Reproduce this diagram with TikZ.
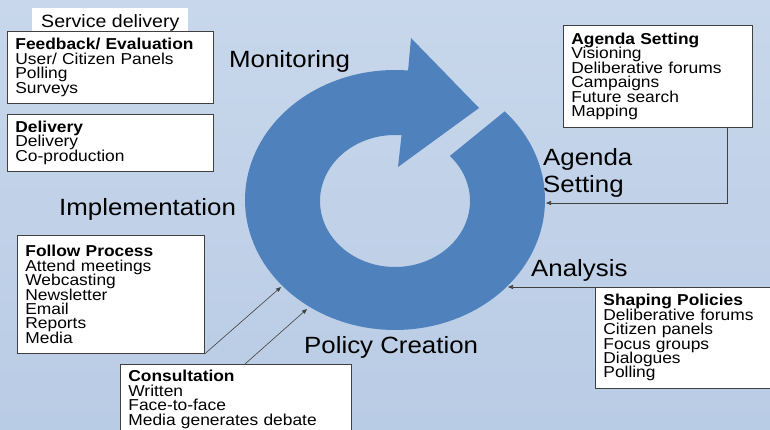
\documentclass[tikz,border=0pt]{standalone}
\usepackage{fontspec}
\setmainfont{Liberation Sans}[FakeStretch=1.1]
\usetikzlibrary{arrows.meta}
\definecolor{ringblue}{HTML}{4F81BD}
\definecolor{bgtop}{HTML}{C8D7EB}
\definecolor{bgbot}{HTML}{B9CCE5}
\definecolor{edgegray}{HTML}{404040}
\newcommand{\boxfont}{\fontsize{15.8}{14.4}\selectfont\lineskiplimit=-30pt\lineskip=0pt}
\newcommand{\svcfont}{\fontsize{17.8}{20}\selectfont}
\newcommand{\stagefont}{\fontsize{23.5}{27}\selectfont}
\begin{document}
\begin{tikzpicture}[x=1pt,y=-1pt,
  infobox/.style={draw=edgegray, line width=0.8pt, fill=white, anchor=north west,
    align=left, inner xsep=8pt, inner ysep=0pt, font=\boxfont},
  stagelabel/.style={anchor=base west, inner sep=0pt, font=\stagefont},
  conn/.style={draw=edgegray, line width=0.6pt, -{Triangle[length=5pt,width=4pt]}}]

\clip (0,0) rectangle (770,430);
\shade[top color=bgtop, bottom color=bgbot] (0,0) rectangle (770,430);

% circular arrow
\fill[ringblue] plot[domain=-43:275, samples=140] ({395+150*cos(\x)},{200+130*sin(\x)})
  -- (411,38) -- (479,108) -- (398,167)
  -- plot[domain=275:-43, samples=140] ({395+75*cos(\x)},{201+66*sin(\x)}) -- cycle;

% stage labels
\node[stagelabel] (mon) at (229,68) {Monitoring};
\node[stagelabel] (ag1) at (543,166) {Agenda};
\node[stagelabel] (ag2) at (543,193) {Setting};
\node[stagelabel] (imp) at (59,215) {Implementation};
\node[stagelabel] (ana) at (531,276) {Analysis};
\node[stagelabel] (pol) at (304,353) {Policy Creation};

% boxes
\node[fill=white, anchor=base west, inner xsep=9pt, inner ysep=6pt, text height=14pt,
  text depth=3pt, font=\svcfont] (svc) at (32,28) {Service delivery};
\node[infobox, text width=190pt, minimum height=72pt] (fb) at (7,31)
  {\textbf{Feedback/ Evaluation}\\User/ Citizen Panels\\Polling\\Surveys};
\node[infobox, text width=190pt, minimum height=57pt] (dl) at (7,114)
  {\textbf{Delivery}\\Delivery\\Co-production};
\node[infobox, text width=173pt, minimum height=102pt] (ag) at (563,25)
  {\textbf{Agenda Setting}\\Visioning\\Deliberative forums\\Campaigns\\Future search\\Mapping};
\node[infobox, text width=171pt, minimum height=118pt] (fp) at (17,235)
  {\textbf{Follow Process}\\Attend meetings\\Webcasting\\Newsletter\\Email\\Reports\\Media};
\node[infobox, text width=215pt, minimum height=70pt] (co) at (120,364)
  {\textbf{Consultation}\\Written\\Face-to-face\\Media generates debate};
\node[infobox, text width=169pt, minimum height=101pt] (sp) at (595,287)
  {\textbf{Shaping Policies}\\Deliberative forums\\Citizen panels\\Focus groups\\Dialogues\\Polling};

% connectors
\coordinate (agt) at (546,203);
\coordinate (ant) at (508,287);
\coordinate (fpt) at (281,287);
\coordinate (cot) at (307,309);
\draw[conn] ([xshift=-26pt]ag.south east) |- (agt);
\draw[conn] (sp.north east) -- (sp.north east -| ant);
\draw[conn] (fp.south east) -- (fpt);
\draw[conn] ([xshift=125pt]co.north west) -- (cot);
\end{tikzpicture}
\end{document}
